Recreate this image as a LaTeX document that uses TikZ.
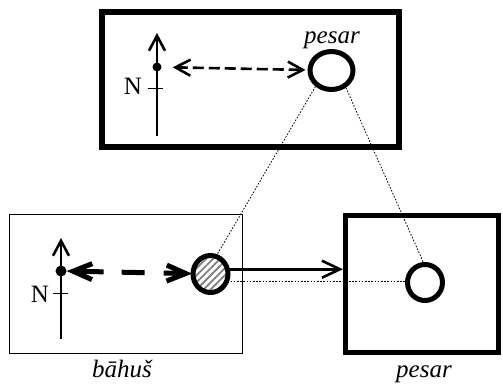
\documentclass[tikz,border=0pt]{standalone}
\usepackage{fontspec}
\setmainfont{Liberation Serif}
\usetikzlibrary{positioning, arrows.meta, shapes.geometric, patterns.meta}

\tikzset{
    dots/.style={line width=0.8pt, dash pattern=on 1.6pt off 1.6pt},
    lbl/.style={font=\fontsize{25}{30}\selectfont, inner sep=0pt}
}

\begin{document}
\begin{tikzpicture}[x=1pt, y=-1pt]
    \useasboundingbox (0,0) rectangle (503,387);

    \begin{scope}[every node/.style={draw, inner sep=0pt}]
        \node[line width=6pt, minimum width=297pt, minimum height=135pt] (Top) at (250.5, 80)    {};
        \node[line width=1pt, minimum width=233pt, minimum height=138pt] (Bh)  at (126, 284)     {};
        \node[line width=5pt, minimum width=153pt, minimum height=137pt] (Ps)  at (422, 284.25)  {};
    \end{scope}

    \begin{scope}[every node/.style={ellipse, draw, line width=5pt, inner sep=0pt}]
        \node[minimum width=43pt, minimum height=38pt] (PsT) at (331.5, 70.5) {};
        \node[minimum width=35pt, minimum height=37pt, pattern={Lines[angle=45, distance=5pt, line width=1.8pt]}, pattern color=gray] (BhC) at (210.5, 274) {};
        \node[minimum width=35pt, minimum height=36pt] (PsC) at (425, 282.5) {};
    \end{scope}

    \begin{scope}[every node/.style={circle, fill, inner sep=0pt}]
        \node[minimum size=9pt]  (DotT) at (157, 67)  {};
        \node[minimum size=11pt] (DotB) at (61, 271)  {};
    \end{scope}

    \coordinate (STop) at (157, 136);
    \coordinate (NTop) at (157, 33);
    \coordinate (TkT)  at (157, 89);
    \coordinate (SBot) at (61, 339);
    \coordinate (NBot) at (61, 238);
    \coordinate (TkB)  at (61, 293);

    \begin{scope}[line width=2.6pt, >={Straight Barb[length=15pt, width=16pt]}]
        \draw[->] (STop) -- (NTop);
        \draw[->] (SBot) -- (NBot);
        \draw[<->, dash pattern=on 11pt off 5pt, shorten <=11pt, shorten >=2pt] (DotT) -- (PsT);
        \draw[->, >={Straight Barb[length=18pt, width=17pt]}] (BhC.15) -- (BhC.15 -| Ps.west);
        \draw[<->, line width=5pt, >={Straight Barb[length=19pt, width=16pt]},
              dash pattern=on 28pt off 18pt on 23pt off 19pt on 60pt] (DotB) -- (BhC);
    \end{scope}

    \begin{scope}[line width=1pt]
        \draw ([xshift=-9pt]TkT) -- ([xshift=6pt]TkT);
        \draw ([xshift=-8pt]TkB) -- ([xshift=7pt]TkB);
    \end{scope}

    \begin{scope}[dots]
        \draw (PsT.225) -- (BhC.72);
        \draw (PsT.-50) -- (PsC.95);
        \draw (BhC.-25) -- (BhC.-25 -| PsC.west);
    \end{scope}

    \begin{scope}[every node/.style={lbl}]
        \node (NT) at (133, 86) {N};
        \node (NB) at (40, 294) {N};
        \node[anchor=base] (LPsT) at (332, 44)  {\itshape pesar};
        \node[anchor=base] (LBh)  at (122, 377) {\itshape bāhuš};
        \node[anchor=base] (LPs)  at (424, 377) {\itshape pesar};
    \end{scope}
\end{tikzpicture}
\end{document}
